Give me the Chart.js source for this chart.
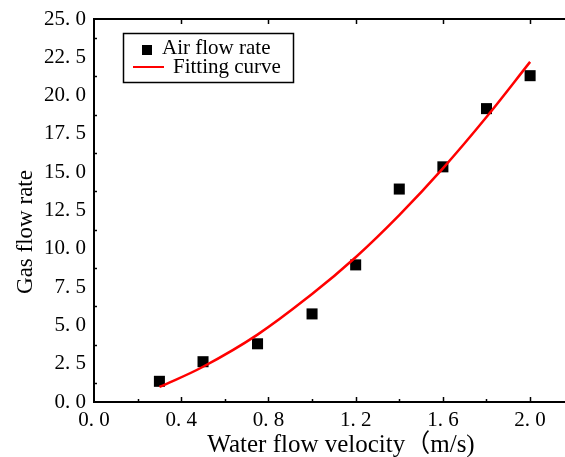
<!DOCTYPE html>
<html>
<head>
<meta charset="utf-8">
<script src="https://cdn.jsdelivr.net/npm/chart.js@4.4.1/dist/chart.umd.min.js"></script>
<style>
  html, body { margin: 0; padding: 0; background: #fff; }
  #wrap { width: 565px; height: 457px; position: relative; }
</style>
</head>
<body>
<div id="wrap"><canvas id="chart"></canvas></div>
<script>
'use strict';

const VELOCITY = [0.3, 0.5, 0.75, 1.0, 1.2, 1.4, 1.6, 1.8, 2.0];
const AIR_FLOW = [1.35, 2.63, 3.8, 5.75, 8.95, 13.9, 15.35, 19.15, 21.3];

/* フィッティング曲線 */
const FIT_X = [0.3, 0.5, 0.75, 1.0, 1.2, 1.4, 1.6, 1.8, 2.0];
const FIT_Y = [0.98, 2.3, 4.4, 7.05, 9.45, 12.2, 15.25, 18.6, 22.2];

/* 目盛り */
const X_TICKS = [0, 0.4, 0.8, 1.2, 1.6, 2.0];
const X_MINOR = [0.2, 0.6, 1.0, 1.4, 1.8];
const Y_TICKS = [0, 2.5, 5, 7.5, 10, 12.5, 15, 17.5, 20, 22.5, 25];
const Y_MINOR = [1.25, 3.75, 6.25, 8.75, 11.25, 13.75, 16.25, 18.75, 21.25, 23.75];

const SERIES_LABELS = ['Air flow rate', 'Fitting curve'];
const X_TITLE = 'Water flow velocity（m/s)';
const Y_TITLE = 'Gas flow rate';

const SERIF = '"Liberation Serif", "Times New Roman", "Noto Sans CJK SC", serif';
const RED = '#ff0000';

const fmtTick = (v) => Number(v).toFixed(1).replace('.', '. ');

/* 内向きの目盛り・上側の軸・軸タイトル・凡例を描く */
const framePlugin = {
  id: 'frame',
  afterDraw(chart) {
    const { ctx, chartArea: a, scales: { x, y } } = chart;
    const line = (x1, y1, x2, y2) => { ctx.beginPath(); ctx.moveTo(x1, y1); ctx.lineTo(x2, y2); ctx.stroke(); };
    ctx.save();
    ctx.strokeStyle = '#000';

    /* 上側の軸線 */
    ctx.lineWidth = 2;
    line(a.left - 1, a.top, a.right, a.top);

    /* 目盛り（内向き） */
    ctx.lineWidth = 1.5;
    X_TICKS.forEach((v) => {
      if (v === 0) return;
      const px = Math.round(x.getPixelForValue(v)) + 0.5;
      line(px, a.bottom, px, a.bottom - 5);
      line(px, a.top, px, a.top + 5);
    });
    X_MINOR.forEach((v) => {
      const px = Math.round(x.getPixelForValue(v)) + 0.5;
      line(px, a.bottom, px, a.bottom - 3);
    });
    Y_MINOR.forEach((v) => {
      const py = Math.round(y.getPixelForValue(v)) + 0.5;
      line(a.left, py, a.left + 3, py);
    });

    /* 軸タイトル */
    ctx.fillStyle = '#000';
    ctx.textAlign = 'center';
    ctx.textBaseline = 'alphabetic';
    ctx.font = '25px ' + SERIF;
    ctx.fillText(X_TITLE, a.left + 247, a.bottom + 50);

    ctx.save();
    ctx.font = '23px ' + SERIF;
    ctx.translate(32, a.top + 213);
    ctx.rotate(-Math.PI / 2);
    ctx.fillText(Y_TITLE, 0, 0);
    ctx.restore();

    /* 凡例 */
    const lx = a.left + 29, ly = a.top + 14;
    ctx.lineWidth = 1.5;
    ctx.strokeRect(lx + 0.5, ly + 0.5, 170, 49);
    ctx.fillStyle = '#000';
    ctx.fillRect(lx + 19, ly + 12, 10, 10);
    ctx.strokeStyle = RED;
    ctx.lineWidth = 2;
    line(lx + 10, ly + 34, lx + 41, ly + 34);
    ctx.fillStyle = '#000';
    ctx.font = '21px ' + SERIF;
    ctx.textAlign = 'left';
    ctx.fillText(chart.data.datasets[0].label, lx + 39, ly + 21);
    ctx.fillText(chart.data.datasets[1].label, lx + 50, ly + 40);
    ctx.restore();
  },
};

new Chart(document.getElementById('chart'), {
  type: 'scatter',
  data: {
    datasets: [{
      label: SERIES_LABELS[0],
      data: VELOCITY.map((v, i) => ({ x: v, y: AIR_FLOW[i] })),
      pointStyle: 'rect',
      pointRadius: 7.8,
      pointBorderWidth: 0,
      backgroundColor: '#000',
      borderColor: '#000',
      order: 1,
    }, {
      label: SERIES_LABELS[1],
      data: FIT_X.map((v, i) => ({ x: v, y: FIT_Y[i] })),
      showLine: true,
      pointRadius: 0,
      borderColor: RED,
      borderWidth: 2.5,
      tension: 0.4,
      order: 0,
    }],
  },
  options: {
    responsive: true,
    maintainAspectRatio: false,
    animation: false,
    layout: { autoPadding: false, padding: { top: 19, left: 0, right: 0, bottom: 0 } },
    plugins: { legend: { display: false }, tooltip: { enabled: false } },
    scales: {
      x: {
        type: 'linear',
        min: 0,
        max: 2.16,
        afterBuildTicks: (s) => { s.ticks = X_TICKS.map((v) => ({ value: v })); },
        afterFit: (s) => { s.height = 55; s.paddingRight = 0; s.paddingLeft = 0; },
        grid: { display: false, drawTicks: false },
        border: { display: true, color: '#000', width: 2 },
        ticks: {
          padding: 6,
          maxRotation: 0,
          color: '#000',
          font: { family: SERIF, size: 21 },
          callback: fmtTick,
        },
      },
      y: {
        min: 0,
        max: 25,
        afterBuildTicks: (s) => { s.ticks = Y_TICKS.map((v) => ({ value: v })); },
        afterFit: (s) => { s.width = 94; s.paddingTop = 0; s.paddingBottom = 0; },
        grid: { display: false, drawTicks: false },
        border: { display: true, color: '#000', width: 2 },
        ticks: {
          padding: 8,
          color: '#000',
          font: { family: SERIF, size: 21 },
          callback: fmtTick,
        },
      },
    },
  },
  plugins: [framePlugin],
});
</script>
</body>
</html>
